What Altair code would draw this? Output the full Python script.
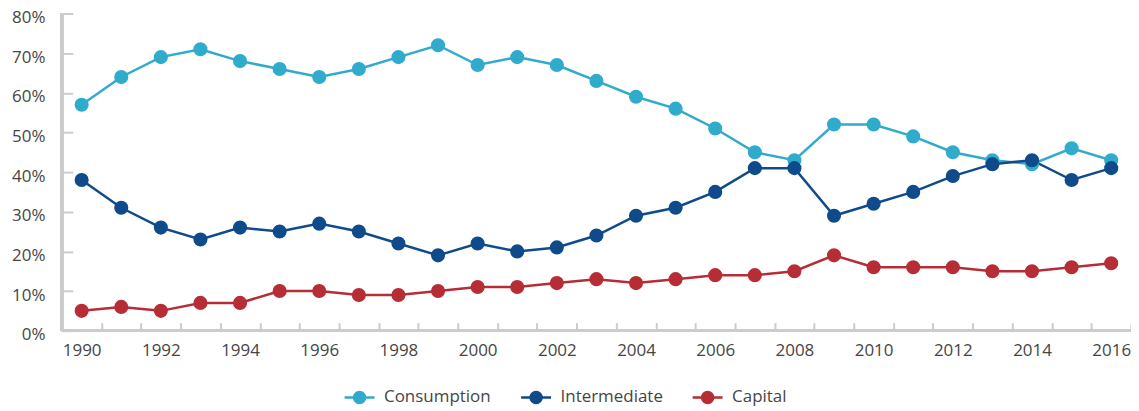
import altair as alt
import pandas as pd

years = list(range(1990, 2017))
consumption = [57, 64, 69, 71, 68, 66, 64, 66, 69, 72, 67, 69, 67, 63, 59, 56, 51, 45, 43, 52, 52, 49, 45, 43, 42, 46, 43]
intermediate = [38, 31, 26, 23, 26, 25, 27, 25, 22, 19, 22, 20, 21, 24, 29, 31, 35, 41, 41, 29, 32, 35, 39, 42, 43, 38, 41]
capital = [5, 6, 5, 7, 7, 10, 10, 9, 9, 10, 11, 11, 12, 13, 12, 13, 14, 14, 15, 19, 16, 16, 16, 15, 15, 16, 17]
series_names = ["Consumption", "Intermediate", "Capital"]
series_colors = ["#31abcb", "#0f4a8b", "#b72d35"]
y_ticks = [0, 0.1, 0.2, 0.3, 0.4, 0.5, 0.6, 0.7, 0.8]

rows = []
for name, vals in zip(series_names, [consumption, intermediate, capital]):
    for yr, v in zip(years, vals):
        rows.append({"year": yr, "series": name, "value": v / 100})
df = pd.DataFrame(rows)

FONT = "Open Sans"
FS = 17
TXT = "#454545"
W, H = 1072, 318
AXC = "#cccccc"

xenc = alt.X(
    "year:O",
    scale=alt.Scale(type="band", paddingInner=0, paddingOuter=0),
    axis=alt.Axis(
        title=None, tickBand="extent", domain=False, offset=-8, tickSize=8,
        tickColor=AXC, tickWidth=2, labelAngle=0, labelPadding=12,
        labelExpr="datum.value % 2 == 0 ? datum.label : ''",
        labelFont=FONT, labelFontSize=FS, labelColor=TXT,
    ),
)
yenc = alt.Y(
    "value:Q",
    scale=alt.Scale(domain=[0, 0.8], nice=False),
    axis=alt.Axis(
        title=None, values=y_ticks, format=".0%", domain=False, grid=False,
        offset=-11, tickSize=11, tickColor=AXC, tickWidth=2, labelPadding=17,
        labelBaseline="top", labelOffset=-4,
        labelFont=FONT, labelFontSize=FS, labelColor=TXT,
    ),
)

legend_path = "M-1,0L1,0M0.37,0A0.37,0.37,0,1,1,-0.37,0A0.37,0.37,0,1,1,0.37,0Z"
cscale = alt.Scale(domain=series_names, range=series_colors)
leg = alt.Legend(
    title=None, orient="none", direction="horizontal", legendX=282, legendY=368,
    symbolType=legend_path, symbolSize=900, symbolStrokeWidth=2.5,
    labelFont=FONT, labelFontSize=FS, labelColor=TXT, columnPadding=24,
    labelOffset=8,
)

base = alt.Chart(df)
lines = base.mark_line(strokeWidth=2.5).encode(
    x=xenc, y=yenc,
    stroke=alt.Stroke("series:N", scale=cscale, legend=leg, sort=series_names),
    detail="series:N",
)
points = base.mark_circle(size=200, opacity=1).encode(
    x=xenc, y=yenc,
    fill=alt.Fill("series:N", scale=cscale, legend=leg, sort=series_names),
)
ydomain = alt.Chart(df).mark_rule(color=AXC, strokeWidth=2.5).encode(
    x=alt.value(0), y=alt.value(0), y2=alt.value(H)
)
xdomain = alt.Chart(df).mark_rule(color=AXC, strokeWidth=2.5).encode(
    x=alt.value(0), x2=alt.value(W), y=alt.value(H)
)

chart = alt.layer(ydomain, xdomain, lines, points).properties(
    width=W, height=H,
    autosize=alt.AutoSizeParams(type="none"),
    padding={"left": 54, "top": 5, "right": 0, "bottom": 80},
).configure_view(stroke=None)

chart.save("out.html", embed_options={"renderer": "svg", "actions": False})
